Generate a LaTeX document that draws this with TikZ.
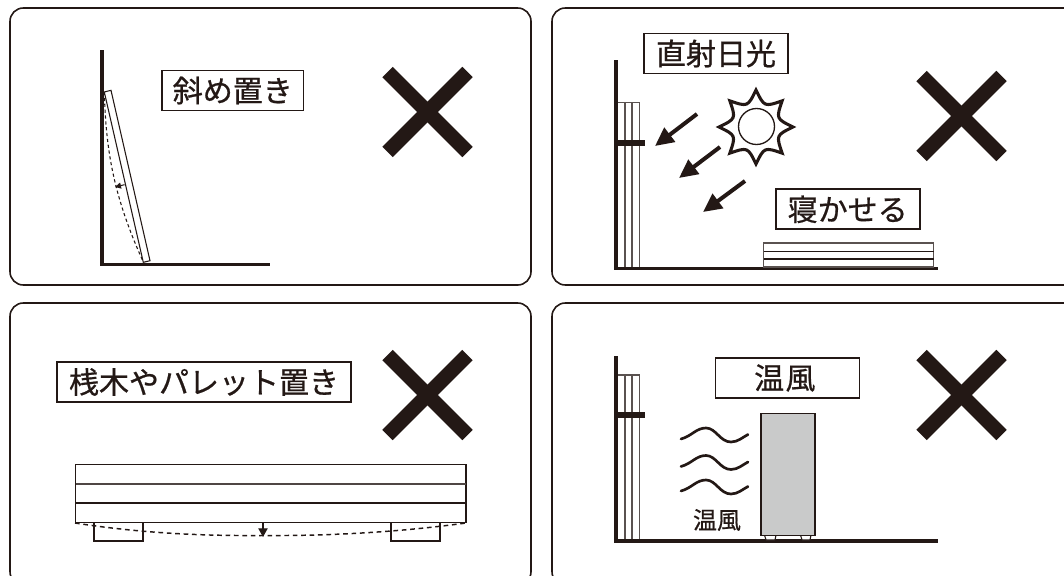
\documentclass[tikz,border=0pt]{standalone}
\usepackage{fontspec}
\setmainfont[FakeBold=0.7]{Noto Sans CJK JP}
\usetikzlibrary{arrows.meta}
\definecolor{ink}{HTML}{231815}
\definecolor{panelgray}{HTML}{C9CACA}
\tikzset{
  x=0.75pt,y=-0.75pt,
  panel/.style={draw=ink,line width=1.2pt,rounded corners=10pt},
  labelbox/.style={draw=ink,line width=1.4pt,fill=white,inner sep=0pt,minimum height=30pt,font=\fontsize{22.5}{22.5}\selectfont,text=ink},
  wall/.style={draw=ink,line width=2.5pt},
  board/.style={draw=ink!75,line width=0.8pt},
  cross/.style={draw=ink,line width=11pt},
  sunray/.style={draw=ink,line width=3pt,-{Triangle[length=14pt,width=13pt]}},
  wave/.style={draw=ink,line width=2pt,line cap=round},
}
\newcommand{\crossmark}[2]{%
  \draw[cross] (#1-40,#2-40) -- (#1+40,#2+40);
  \draw[cross] (#1-40,#2+40) -- (#1+40,#2-40);}
\begin{document}
\begin{tikzpicture}
\useasboundingbox (0,0) rectangle (1064,575);
\clip (0,0) rectangle (1064,575);
% panels
\draw[panel] (10,8) rectangle (531,285);
\draw[panel] (552,8) rectangle (1085,285);
\draw[panel] (10,303) rectangle (531,585);
\draw[panel] (552,303) rectangle (1085,585);
% crosses
\crossmark{427.5}{112}
\crossmark{961.5}{116}
\crossmark{427.5}{395}
\crossmark{961.5}{395}

% panel 1
\coordinate (w1t) at (102,50); \coordinate (w1c) at (102,264.5); \coordinate (w1f) at (270,264.5);
\draw[wall] (w1t) -- (w1c) -- (w1f);
\draw[draw=ink,line width=0.8pt,fill=white] (104.3,92) -- (111,90.3) -- (150,260.7) -- (143.3,262.3) -- cycle;
\draw[draw=ink,line width=0.8pt,dash pattern=on 2.4pt off 2pt] (104.3,92) .. controls (106,150) and (113,195) .. (143.3,262);
\draw[draw=ink,line width=0.8pt,-{Triangle[length=4.5pt,width=4.5pt]}] (124.5,184.7) -- (115,187);
\node[labelbox,minimum width=106pt] (l1) at (232.8,90.5) {斜め置き};

% panel 2
\coordinate (w2t) at (616,60); \coordinate (w2c) at (616,268.7); \coordinate (w2f) at (938,268.7);
\draw[board] (616,102.5) -- (639.5,102.5) -- (639.5,267);
\draw[board] (625,102.5) -- (625,267) (632,102.5) -- (632,267);
\draw[wall] (w2t) -- (w2c) -- (w2f);
\draw[draw=ink,line width=4.5pt] (616,143) -- (645,143);
\node[labelbox,minimum width=108pt] (l2) at (716,53.5) {直射日光};
\draw[draw=ink,line width=1pt] (756.5,126.5) circle[radius=18];
\draw[draw=ink,line width=2.3pt,line join=miter,miter limit=5,shift={(756,127)}]
  (0:37) \foreach \a in {0,45,...,315}{ .. controls (\a+22.5:21.7) .. (\a+45:37)} -- cycle;
\coordinate (a1s) at (697,114); \coordinate (a1e) at (655,146);
\coordinate (a2s) at (720,147); \coordinate (a2e) at (679,178);
\coordinate (a3s) at (745,181); \coordinate (a3e) at (703,212);
\draw[sunray] (a1s) -- (a1e);
\draw[sunray] (a2s) -- (a2e);
\draw[sunray] (a3s) -- (a3e);
\node[labelbox,minimum width=108pt] (l3) at (847.7,209.3) {寝かせる};
\draw[board] (763.5,243) rectangle (933.5,267);
\draw[draw=ink,line width=0.8pt] (763.5,251.5) -- (933.5,251.5);
\draw[draw=ink,line width=0.8pt] (763.5,259) -- (933.5,259);

% panel 3
\node[labelbox,minimum width=220pt] (l4) at (204,382) {桟木やパレット置き};
\draw[draw=ink,line width=0.8pt] (94,522.5) rectangle (143,541);
\draw[draw=ink,line width=0.8pt] (391,522.5) rectangle (440,541);
\draw[draw=ink,line width=0.9pt] (75.5,464.5) rectangle (466,522.5);
\draw[draw=ink!80,line width=1.1pt] (75.5,484) -- (466,484);
\draw[draw=ink,line width=1.4pt] (75.5,503) -- (466,503);
\draw[draw=ink,line width=1.1pt,dash pattern=on 3.5pt off 2.8pt] (75,523) .. controls (140,533) and (200,536) .. (263,535.5) .. controls (330,536) and (400,532) .. (466,523);
\draw[draw=ink,line width=0.8pt,-{Triangle[length=6.5pt,width=7pt]}] (263,522.5) -- (263,537);

% panel 4
\coordinate (w4t) at (616,356); \coordinate (w4c) at (616,541); \coordinate (w4f) at (938,541);
\draw[board] (616,375) -- (639.5,375) -- (639.5,539);
\draw[board] (625,375) -- (625,539) (632,375) -- (632,539);
\draw[wall] (w4t) -- (w4c) -- (w4f);
\draw[draw=ink,line width=4.5pt] (616,415) -- (645,415);
\node[labelbox,minimum width=108pt,text width=108pt,align=center] (l5) at (787.5,378) {\hspace*{-4pt}温\hspace{1pt}風};
\draw[draw=ink,line width=0.8pt,fill=white] (764.5,535) -- (766,540) -- (775,540) -- (776,535);
\draw[draw=ink,line width=0.8pt,fill=white] (800.5,535) -- (802,540) -- (810,540) -- (811,535);
\draw[draw=ink,line width=1.2pt,fill=panelgray] (761,413.5) rectangle (815,535.5);
\foreach \yy in {0,27.5,52}{
  \draw[wave] (681,439+\yy) .. controls (692,436+\yy) and (696,428+\yy) .. (706,428+\yy)
    .. controls (716,428+\yy) and (720,442+\yy) .. (731,442+\yy)
    .. controls (738,442+\yy) and (743,437+\yy) .. (748,434.5+\yy);
}
\node[text=ink,font=\fontsize{18}{18}\selectfont,inner sep=0pt] (l6) at (717,520) {温風};
\end{tikzpicture}
\end{document}
